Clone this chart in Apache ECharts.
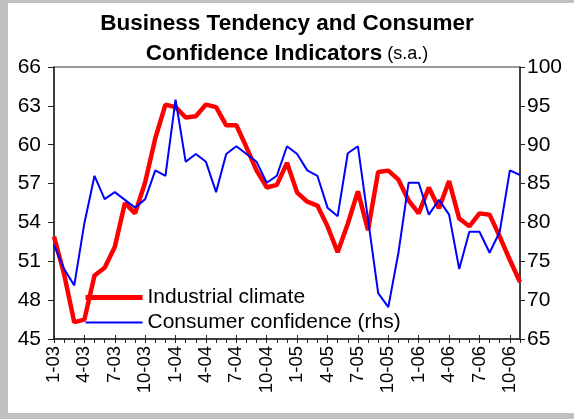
<!DOCTYPE html>
<html>
<head>
<meta charset="utf-8">
<script src="https://cdn.jsdelivr.net/npm/echarts@6/dist/echarts.min.js"></script>
<style>
html, body { margin: 0; padding: 0; background: #fff; }
#plot { width: 574px; height: 419px; }
#frame { position: absolute; left: 0; top: 0; width: 574px; height: 419px; box-sizing: border-box;
  border-style: solid; border-color: #c0c0c0; border-width: 3px 0 6px 8px; pointer-events: none; }
</style>
</head>
<body>
<div id="plot"></div>
<div id="frame"></div>
<script>
// months Jan 2003 - Nov 2006
var months = ['1-03','2-03','3-03','4-03','5-03','6-03','7-03','8-03','9-03','10-03','11-03','12-03',
  '1-04','2-04','3-04','4-04','5-04','6-04','7-04','8-04','9-04','10-04','11-04','12-04',
  '1-05','2-05','3-05','4-05','5-05','6-05','7-05','8-05','9-05','10-05','11-05','12-05',
  '1-06','2-06','3-06','4-06','5-06','6-06','7-06','8-06','9-06','10-06','11-06'];

// Industrial climate (lhs)
var industrial = [52.9, 50.0, 46.3, 46.5, 49.9, 50.5, 52.1, 55.5, 54.7, 57.1, 60.5, 63.1,
  62.9, 62.1, 62.2, 63.1, 62.9, 61.5, 61.5, 59.8, 58.0, 56.7, 56.9, 58.6,
  56.3, 55.6, 55.3, 53.7, 51.7, 53.9, 56.4, 53.4, 57.9, 58.0, 57.3, 55.7,
  54.7, 56.7, 55.1, 57.2, 54.3, 53.7, 54.7, 54.6, 52.9, 51.1, 49.4];

// Consumer confidence (rhs)
var consumer = [77.1, 74.0, 71.9, 79.9, 86.0, 83.0, 83.9, 82.9, 81.9, 83.0, 86.7, 86.0,
  95.8, 87.8, 88.8, 87.8, 83.9, 88.8, 89.8, 88.8, 87.8, 85.1, 86.0, 89.8,
  88.8, 86.7, 86.0, 81.9, 80.8, 88.9, 89.8, 80.4, 70.9, 69.1, 76.1, 85.1,
  85.1, 81.0, 82.9, 81.0, 74.0, 78.8, 78.8, 76.1, 78.8, 86.7, 86.1];

var font = 'Liberation Sans, Arial, sans-serif';

var myChart = echarts.init(document.getElementById('plot'));

var option = {
  backgroundColor: '#fff',
  animation: false,
  title: {
    left: 'center',
    top: 4,
    text: '{b|Business Tendency and Consumer}\n{b|Confidence Indicators} {n|(s.a.)}',
    textStyle: {
      lineHeight: 30,
      rich: {
        b: { fontFamily: font, fontSize: 22.5, fontWeight: 'bold', color: '#000', lineHeight: 30 },
        n: { fontFamily: font, fontSize: 18, fontWeight: 'normal', color: '#000', lineHeight: 30 }
      }
    }
  },
  grid: {
    left: 54, right: 54, top: 67, bottom: 80,
    show: true, borderColor: '#333', borderWidth: 1
  },
  legend: {
    orient: 'vertical',
    left: 78,
    top: 282,
    itemWidth: 57,
    itemHeight: 14,
    itemGap: 4,
    itemStyle: { color: 'transparent', opacity: 0 },
    textStyle: { fontFamily: font, fontSize: 21, color: '#000' },
    data: [
      { name: 'Industrial climate', lineStyle: { width: 5, color: '#ff0000' } },
      { name: 'Consumer confidence (rhs)', lineStyle: { width: 2, color: '#0000ff' } }
    ]
  },
  xAxis: [{
    type: 'category',
    data: months,
    boundaryGap: false,
    axisLine: { lineStyle: { color: '#222', width: 1.5 } },
    axisTick: { interval: 0, length: 4, lineStyle: { color: '#222' } },
    axisLabel: { interval: 2, rotate: 90, margin: 7, fontFamily: font, fontSize: 18.5, color: '#000' }
  }, {
    type: 'category',
    data: months,
    boundaryGap: false,
    position: 'bottom',
    offset: 0,
    axisLine: { show: false },
    axisTick: { interval: 2, inside: true, length: 4, lineStyle: { color: '#222' } },
    axisLabel: { show: false }
  }],
  yAxis: [{
    type: 'value',
    min: 45, max: 66, interval: 3,
    splitLine: { show: false },
    axisLine: { show: true, lineStyle: { color: '#222', width: 1.5 } },
    axisTick: { show: true, length: 6, lineStyle: { color: '#222' } },
    axisLabel: { margin: 13, fontFamily: font, fontSize: 21, color: '#000' }
  }, {
    type: 'value',
    min: 65, max: 100, interval: 5,
    position: 'right',
    splitLine: { show: false },
    axisLine: { show: true, lineStyle: { color: '#222', width: 1.5 } },
    axisTick: { show: true, length: 5, lineStyle: { color: '#222' } },
    axisLabel: { margin: 7, fontFamily: font, fontSize: 21, color: '#000' }
  }],
  series: [{
    name: 'Industrial climate',
    type: 'line',
    yAxisIndex: 0,
    data: industrial,
    symbol: 'none',
    lineStyle: { color: '#ff0000', width: 4.5 },
    itemStyle: { color: '#ff0000' },
    z: 2
  }, {
    name: 'Consumer confidence (rhs)',
    type: 'line',
    yAxisIndex: 1,
    data: consumer,
    symbol: 'none',
    lineStyle: { color: '#0000ff', width: 2 },
    itemStyle: { color: '#0000ff' },
    z: 3
  }]
};

myChart.setOption(option);
</script>
</body>
</html>
